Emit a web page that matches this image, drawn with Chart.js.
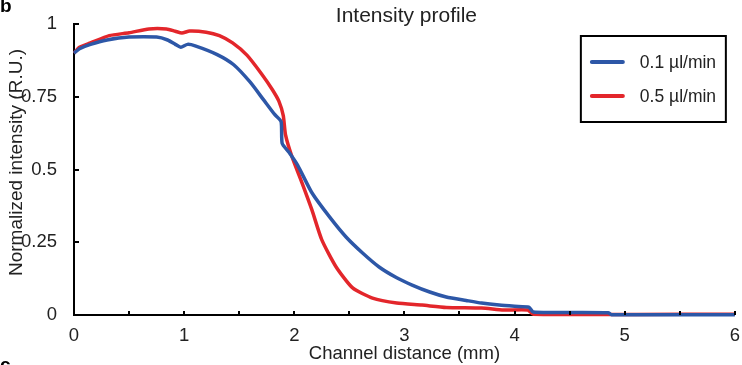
<!DOCTYPE html>
<html>
<head>
<meta charset="utf-8">
<script src="https://cdn.jsdelivr.net/npm/chart.js@4"></script>
<style>
  html, body { margin: 0; padding: 0; background: #fff; }
  #wrap { width: 742px; height: 365px; position: relative; }
</style>
</head>
<body>
<div id="wrap"><canvas id="profile-chart"></canvas></div>
<script>
// Intensity profile data
const seriesLabels = ['0.1 \u00b5l/min', '0.5 \u00b5l/min'];
const seriesColors = ['#2d57a7', '#e3262b'];

const slowX = [0, 0.05, 0.15, 0.3, 0.5, 0.75, 0.85, 0.92, 0.97, 1.03, 1.1, 1.3, 1.45, 1.6, 1.72, 1.82, 1.88, 1.89, 1.95, 2.03, 2.16, 2.32, 2.47, 2.62, 2.77, 2.93, 3.07, 3.23, 3.38, 3.56, 3.7, 3.86, 4.0, 4.13, 4.17, 4.5, 4.85, 4.88, 6];
const slowY = [0.90, 0.915, 0.93, 0.945, 0.955, 0.955, 0.945, 0.93, 0.92, 0.93, 0.925, 0.895, 0.86, 0.80, 0.74, 0.69, 0.665, 0.59, 0.56, 0.515, 0.42, 0.337, 0.268, 0.213, 0.165, 0.128, 0.103, 0.079, 0.062, 0.05, 0.041, 0.034, 0.03, 0.027, 0.01, 0.009, 0.008, 0.001, 0.001];

const fastX = [0, 0.05, 0.15, 0.32, 0.5, 0.68, 0.84, 0.92, 0.98, 1.05, 1.2, 1.32, 1.44, 1.57, 1.71, 1.8, 1.86, 1.9, 1.92, 1.98, 2.07, 2.16, 2.25, 2.38, 2.53, 2.71, 2.93, 3.16, 3.38, 3.7, 3.9, 4.12, 4.17, 6];
const fastY = [0.90, 0.92, 0.935, 0.96, 0.97, 0.983, 0.983, 0.975, 0.969, 0.976, 0.972, 0.96, 0.935, 0.893, 0.825, 0.775, 0.735, 0.685, 0.62, 0.543, 0.454, 0.361, 0.258, 0.165, 0.093, 0.058, 0.041, 0.034, 0.026, 0.024, 0.017, 0.017, 0.003, 0.003];

const xTicks = [0, 1, 2, 3, 4, 5, 6];
const yTicks = [0, 0.25, 0.5, 0.75, 1];

const FONT = '"Liberation Sans", Arial, Helvetica, sans-serif';

function toPoints(xs, ys) {
    return xs.map((x, i) => ({ x: x, y: ys[i] }));
}

// Draws panel letters, titles, inward ticks and the boxed legend
const decorPlugin = {
    id: 'decor',
    afterDraw(chart) {
        const ctx = chart.ctx;
        const area = chart.chartArea;
        const xs = chart.scales.x;
        const ys = chart.scales.y;
        ctx.save();

        // inward tick marks
        ctx.strokeStyle = '#000';
        ctx.lineWidth = 2;
        ctx.beginPath();
        for (let v = 0; v <= 6.001; v += 0.5) {
            const px = Math.round(xs.getPixelForValue(v));
            ctx.moveTo(px, area.bottom);
            ctx.lineTo(px, area.bottom - 4);
        }
        yTicks.forEach(v => {
            const py = Math.round(ys.getPixelForValue(v));
            ctx.moveTo(area.left, py);
            ctx.lineTo(area.left + 5, py);
        });
        ctx.stroke();

        // title
        ctx.fillStyle = '#222';
        ctx.font = '21px ' + FONT;
        ctx.textAlign = 'center';
        ctx.textBaseline = 'alphabetic';
        ctx.fillText('Intensity profile', (area.left + area.right) / 2 + 2, 22);

        // y axis title
        ctx.save();
        ctx.translate(17, (area.top + area.bottom) / 2 - 7);
        ctx.rotate(-Math.PI / 2);
        ctx.font = '19px ' + FONT;
        ctx.textBaseline = 'middle';
        ctx.fillText('Normalized intensity (R.U.)', 0, 0);
        ctx.restore();

        // panel letters
        ctx.fillStyle = '#000';
        ctx.font = 'bold 19px ' + FONT;
        ctx.textAlign = 'left';
        ctx.fillText('b', 0, 12);
        ctx.fillText('c', 0, 371);

        // legend box
        const bx = area.right - 154, by = 36, bw = 145, bh = 86;
        ctx.lineWidth = 2;
        ctx.strokeStyle = '#000';
        ctx.strokeRect(bx, by, bw, bh);
        ctx.font = '17.5px ' + FONT;
        ctx.textBaseline = 'middle';
        chart.data.datasets.forEach((ds, i) => {
            const ly = by + 26 + i * 34;
            ctx.strokeStyle = ds.borderColor;
            ctx.lineWidth = 4;
            ctx.lineCap = 'round';
            ctx.beginPath();
            ctx.moveTo(bx + 11, ly);
            ctx.lineTo(bx + 42, ly);
            ctx.stroke();
            ctx.fillStyle = '#222';
            ctx.fillText(ds.label, bx + 59, ly + 1);
        });
        ctx.restore();
    }
};

function initChart() {
    const ctx = document.getElementById('profile-chart').getContext('2d');
    new Chart(ctx, {
        type: 'line',
        data: {
            datasets: [
                {
                    label: seriesLabels[0],
                    data: toPoints(slowX, slowY),
                    borderColor: seriesColors[0],
                    borderWidth: 3.5,
                    pointRadius: 0,
                    tension: 0.2,
                    clip: false
                },
                {
                    label: seriesLabels[1],
                    data: toPoints(fastX, fastY),
                    borderColor: seriesColors[1],
                    borderWidth: 3.5,
                    pointRadius: 0,
                    tension: 0.2,
                    clip: false
                }
            ]
        },
        options: {
            responsive: true,
            maintainAspectRatio: false,
            animation: false,
            layout: { padding: { top: 24, right: 6, left: 0, bottom: 0 } },
            plugins: {
                legend: { display: false },
                title: { display: false },
                tooltip: { enabled: false }
            },
            scales: {
                x: {
                    type: 'linear',
                    min: 0,
                    max: 6,
                    afterBuildTicks: scale => {
                        scale.ticks = xTicks.map(v => ({ value: v }));
                    },
                    afterFit: scale => { scale.height = 50; },
                    grid: { display: false },
                    border: { display: true, color: '#000', width: 2 },
                    ticks: {
                        color: '#222',
                        font: { family: FONT, size: 18.5 },
                        padding: 2,
                        maxRotation: 0,
                        callback: v => String(v)
                    },
                    title: {
                        display: true,
                        text: 'Channel distance (mm)',
                        color: '#222',
                        font: { family: FONT, size: 18.5 },
                        padding: { top: 0, bottom: 0 }
                    }
                },
                y: {
                    type: 'linear',
                    min: 0,
                    max: 1,
                    afterBuildTicks: scale => {
                        scale.ticks = yTicks.map(v => ({ value: v }));
                    },
                    afterFit: scale => { scale.width = 74; },
                    grid: { display: false },
                    border: { display: true, color: '#000', width: 2 },
                    ticks: {
                        color: '#222',
                        font: { family: FONT, size: 18.5 },
                        padding: 9,
                        callback: v => String(v)
                    }
                }
            }
        },
        plugins: [decorPlugin]
    });
}

document.addEventListener('DOMContentLoaded', initChart);
</script>
</body>
</html>
